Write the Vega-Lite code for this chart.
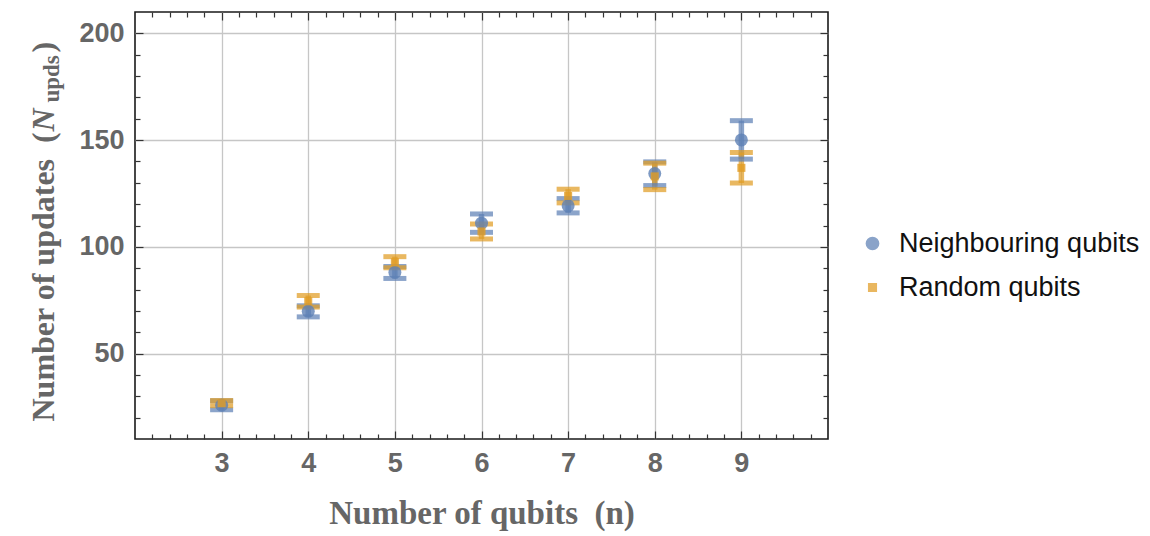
{
  "$schema": "https://vega.github.io/schema/vega-lite/v6.json",
  "width": 693,
  "height": 427,
  "autosize": {"type": "none"},
  "padding": {"left": 135, "top": 12, "right": 322, "bottom": 97},
  "background": "white",
  "config": {
    "view": {"stroke": "#1a1a1a", "strokeWidth": 1.6},
    "axis": {"domain": false, "tickColor": "#333333", "tickWidth": 1.2, "labelFont": "Liberation Sans", "labelFontWeight": "bold", "labelFontSize": 27, "labelColor": "#666666", "titleFont": "Liberation Serif", "titleFontWeight": "bold", "titleColor": "#666666"}
  },
  "data": {
    "values": [
      {"n": 3, "series": "Neighbouring qubits", "mean": 25.8, "lo": 23.7, "hi": 27.9},
      {"n": 4, "series": "Neighbouring qubits", "mean": 69.8, "lo": 67.2, "hi": 72.4},
      {"n": 5, "series": "Neighbouring qubits", "mean": 88.0, "lo": 85.2, "hi": 90.8},
      {"n": 6, "series": "Neighbouring qubits", "mean": 111.1, "lo": 106.8, "hi": 115.4},
      {"n": 7, "series": "Neighbouring qubits", "mean": 119.2, "lo": 115.9, "hi": 122.6},
      {"n": 8, "series": "Neighbouring qubits", "mean": 134.3, "lo": 128.7, "hi": 139.8},
      {"n": 9, "series": "Neighbouring qubits", "mean": 150.1, "lo": 141.1, "hi": 159.1},
      {"n": 3, "series": "Random qubits", "mean": 26.8, "lo": 25.6, "hi": 28.0},
      {"n": 4, "series": "Random qubits", "mean": 74.5, "lo": 71.8, "hi": 77.2},
      {"n": 5, "series": "Random qubits", "mean": 92.8, "lo": 90.2, "hi": 95.4},
      {"n": 6, "series": "Random qubits", "mean": 107.2, "lo": 103.7, "hi": 110.7},
      {"n": 7, "series": "Random qubits", "mean": 123.8, "lo": 120.6, "hi": 127.0},
      {"n": 8, "series": "Random qubits", "mean": 133.0, "lo": 126.8, "hi": 139.2},
      {"n": 9, "series": "Random qubits", "mean": 137.0, "lo": 129.9, "hi": 144.2}
    ]
  },
  "resolve": {"axis": {"x": "independent", "y": "independent"}},
  "layer": [
    {
      "mark": {"type": "rule", "strokeWidth": 5.5, "opacity": 0.72},
      "encoding": {
        "x": {"field": "n", "type": "quantitative", "scale": {"domain": [2, 10], "nice": false, "zero": false},
          "axis": {"orient": "bottom", "values": [3, 4, 5, 6, 7, 8, 9], "grid": true, "gridColor": "#c6c6c6", "gridWidth": 1.3, "tickSize": -8, "labelPadding": 19,
            "title": "Number of qubits\u00a0\u00a0(n)", "titleFontSize": 33, "titleY": 84, "titleBaseline": "alphabetic"}},
        "y": {"field": "lo", "type": "quantitative", "scale": {"domain": [10, 210], "nice": false, "zero": false},
          "axis": {"orient": "left", "values": [50, 100, 150, 200], "grid": true, "gridColor": "#c6c6c6", "gridWidth": 1.3, "tickSize": -8, "labelPadding": 19,
            "title": "Number of updates\u00a0\u00a0(", "titleFontSize": 32, "titleAngle": -90, "titleAlign": "left", "titleBaseline": "alphabetic", "titleX": -82, "titleY": 409}},
        "y2": {"field": "hi"},
        "color": {"field": "series", "type": "nominal", "scale": {"domain": ["Neighbouring qubits", "Random qubits"], "range": ["#5E81B5", "#E19C24"]}}
      }
    },
    {
      "mark": {"type": "tick", "orient": "horizontal", "size": 23, "thickness": 5, "opacity": 0.72},
      "encoding": {
        "x": {"field": "n", "type": "quantitative",
          "axis": {"orient": "bottom", "values": [2.2, 2.4, 2.6, 2.8, 3.2, 3.4, 3.6, 3.8, 4.2, 4.4, 4.6, 4.8, 5.2, 5.4, 5.6, 5.8, 6.2, 6.4, 6.6, 6.8, 7.2, 7.4, 7.6, 7.8, 8.2, 8.4, 8.6, 8.8, 9.2, 9.4, 9.6, 9.8], "grid": false, "labels": false, "tickSize": -5, "title": null}},
        "y": {"field": "hi", "type": "quantitative",
          "axis": {"orient": "left", "values": [20, 30, 40, 60, 70, 80, 90, 110, 120, 130, 140, 160, 170, 180, 190], "grid": false, "labels": false, "tickSize": -5,
            "title": "upds", "titleFontSize": 23, "titleAngle": -90, "titleAlign": "left", "titleBaseline": "alphabetic", "titleX": -77, "titleY": 90}},
        "color": {"field": "series", "type": "nominal"}
      }
    },
    {
      "mark": {"type": "tick", "orient": "horizontal", "size": 23, "thickness": 5, "opacity": 0.72},
      "encoding": {
        "x": {"field": "n", "type": "quantitative",
          "axis": {"orient": "top", "values": [3, 4, 5, 6, 7, 8, 9], "grid": false, "labels": false, "tickSize": -8, "title": null}},
        "y": {"field": "lo", "type": "quantitative",
          "axis": {"orient": "right", "values": [50, 100, 150, 200], "grid": false, "labels": false, "tickSize": -8,
            "title": ")", "titleFontSize": 32, "titleAngle": -90, "titleAlign": "left", "titleBaseline": "alphabetic", "titleX": -775, "titleY": 40}},
        "color": {"field": "series", "type": "nominal"}
      }
    },
    {
      "mark": {"type": "point", "filled": true, "size": 169, "opacity": 0.8},
      "encoding": {
        "x": {"field": "n", "type": "quantitative",
          "axis": {"orient": "top", "values": [2.2, 2.4, 2.6, 2.8, 3.2, 3.4, 3.6, 3.8, 4.2, 4.4, 4.6, 4.8, 5.2, 5.4, 5.6, 5.8, 6.2, 6.4, 6.6, 6.8, 7.2, 7.4, 7.6, 7.8, 8.2, 8.4, 8.6, 8.8, 9.2, 9.4, 9.6, 9.8], "grid": false, "labels": false, "tickSize": -5, "title": null}},
        "y": {"field": "mean", "type": "quantitative",
          "axis": {"orient": "right", "values": [20, 30, 40, 60, 70, 80, 90, 110, 120, 130, 140, 160, 170, 180, 190], "grid": false, "labels": false, "tickSize": -5,
            "title": "N", "titleFontSize": 32, "titleFontStyle": "italic", "titleAngle": -90, "titleAlign": "left", "titleBaseline": "alphabetic", "titleX": -775, "titleY": 119}},
        "color": {"field": "series", "type": "nominal", "title": null,
          "legend": {"orient": "none", "legendX": 724, "legendY": 218, "labelFont": "Liberation Sans", "labelFontSize": 27, "labelColor": "#111111", "labelOffset": 13, "labelLimit": 400, "rowPadding": 16, "symbolSize": 150, "symbolOpacity": 0.72}},
        "shape": {"field": "series", "type": "nominal", "title": null,
          "scale": {"domain": ["Neighbouring qubits", "Random qubits"], "range": ["circle", "M-0.62,-0.62H0.62V0.62H-0.62Z"]}}
      }
    }
  ]
}
